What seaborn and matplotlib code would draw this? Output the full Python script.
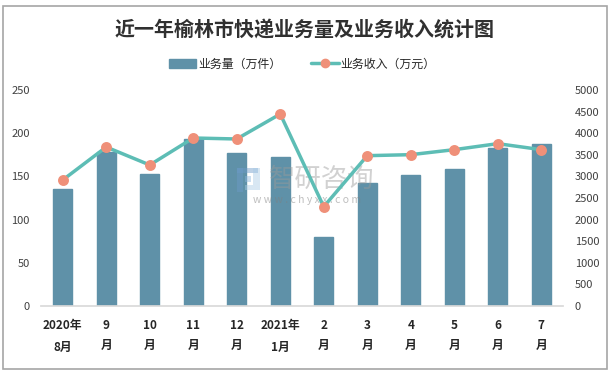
import matplotlib
matplotlib.use("Agg")
import matplotlib.pyplot as plt
from matplotlib.lines import Line2D
from matplotlib.patches import Patch, Rectangle
import seaborn as sns
import pandas as pd

months = ["2020年\n8月", "9\n月", "10\n月", "11\n月", "12\n月", "2021年\n1月",
          "2\n月", "3\n月", "4\n月", "5\n月", "6\n月", "7\n月"]
volume = [135, 178, 153, 193, 177, 173, 79.5, 142, 152, 158, 182.5, 187]
revenue = [2917, 3680, 3264, 3889, 3866, 4444, 2299, 3480, 3503, 3619, 3758, 3619]

sns.set_theme(style="white")
plt.rcParams['font.family'] = ['Noto Sans CJK SC', 'DejaVu Sans']

bar_color = "#5F91A8"
line_color = "#5DBDB5"
marker_color = "#EF9079"

df = pd.DataFrame({"month": months, "volume": volume, "revenue": revenue})

W, H = 613, 376
fig = plt.figure(figsize=(W / 100, H / 100), dpi=100)
ax = fig.add_axes([41 / W, 1 - 306 / H, 522 / W, 216 / H])

sns.barplot(data=df, x="month", y="volume", color=bar_color, width=0.44,
            saturation=1, ax=ax, edgecolor=bar_color)
ax.set_ylim(0, 250)
ax.set_xlim(-0.5, 11.5)
ax.set_yticks(range(0, 251, 50))
ax.set_xlabel("")
ax.set_ylabel("")
for s in ["top", "left", "right"]:
    ax.spines[s].set_visible(False)
ax.spines["bottom"].set_color("#D9D9D9")
ax.tick_params(axis="y", length=0, labelsize=8, colors="#404040", pad=8)
ax.tick_params(axis="x", length=0, pad=9.5)
ax.set_xticks(range(12))
ax.set_xticklabels(months, fontsize=8.5, fontweight="bold", color="#262626",
                   linespacing=1.65)
for lbl in ax.get_xticklabels():
    if "年" in lbl.get_text():
        lbl.set_linespacing(1.85)

# watermark (above bars, below line)
tf = fig.transFigure
ax.text(322 / W, 1 - 179 / H, "智研咨询", ha="center", va="center", fontsize=19,
        color="#9A9A9A", alpha=0.45, zorder=5, transform=tf)
ax.text(307 / W, 1 - 200 / H, "w w w . c h y x x . c o m", ha="center", va="center",
        fontsize=7.5, color="#7F7F7F", alpha=0.5, zorder=5, transform=tf)
for (x0, y0, w, h, c) in [(237, 168, 6, 24, "#6D9BC8"), (237, 168, 21, 5, "#6D9BC8"),
                          (253, 168, 7, 17, "#A9CBE6"), (245, 185, 15, 5, "#A9CBE6"),
                          (245, 176, 6, 6, "#8DB6DC")]:
    ax.add_patch(Rectangle((x0 / W, 1 - (y0 + h) / H), w / W, h / H, transform=tf,
                           facecolor=c, edgecolor="none", alpha=0.45, zorder=5))

ax2 = ax.twinx()
sns.pointplot(data=df, x="month", y="revenue", color=line_color, ax=ax2,
              markers="o", markersize=6, linewidth=2.5)
for ln in ax2.lines:
    ln.set_markerfacecolor(marker_color)
    ln.set_markeredgecolor(marker_color)
ax2.set_ylim(0, 5000)
ax2.set_xlim(-0.5, 11.5)
ax2.set_yticks(range(0, 5001, 500))
ax2.set_ylabel("")
ax2.set_xlabel("")
for s in ["top", "left", "right", "bottom"]:
    ax2.spines[s].set_visible(False)
ax2.tick_params(axis="y", length=0, labelsize=8, colors="#404040", pad=8.5)

fig.text(305 / W, 1 - 30 / H, "近一年榆林市快递业务量及业务收入统计图", ha="center", va="center",
         fontsize=14.4, fontweight="bold", color="#303030")

handles = [Patch(facecolor=bar_color, edgecolor=bar_color),
           Line2D([0], [0], color=line_color, lw=2.5, marker="o", markersize=6,
                  markerfacecolor=marker_color, markeredgecolor=marker_color)]
fig.legend(handles, ["业务量（万件）", "业务收入（万元）"], loc="center",
           bbox_to_anchor=(302.5 / W, 1 - 64 / H), ncol=2, frameon=False, fontsize=8.6,
           handlelength=2.27, columnspacing=2.5, handletextpad=0.18)

fig.patches.append(Rectangle((3 / W, 1 - 369 / H), 604 / W, 363 / H, transform=tf,
                             fill=False, edgecolor="#A6A6A6", lw=1.2))

fig.savefig("out.png", dpi=100)
